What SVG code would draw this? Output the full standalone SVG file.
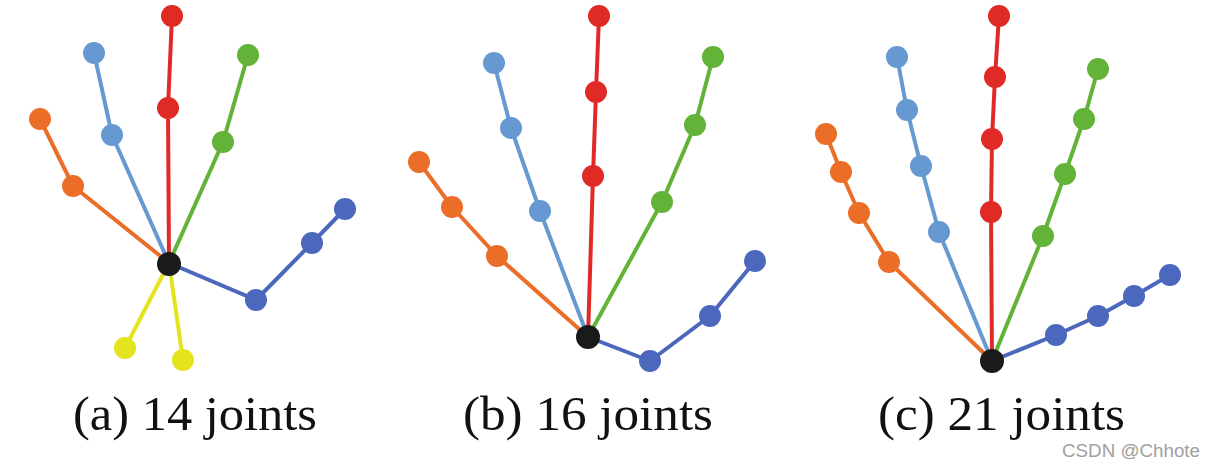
<svg xmlns="http://www.w3.org/2000/svg" width="1208" height="469" viewBox="0 0 1208 469">
<style>
.e{fill:none;stroke-width:4;stroke-linejoin:round;stroke-linecap:round}
.r{stroke:#E02A26}.rf{fill:#E02A26}
.lb{stroke:#6699D2}.lbf{fill:#6699D2}
.o{stroke:#EA6E28}.of{fill:#EA6E28}
.g{stroke:#62B337}.gf{fill:#62B337}
.b{stroke:#4B68BD}.bf{fill:#4B68BD}
.y{stroke:#E4E41E}.yf{fill:#E4E41E}
.k{fill:#1A1A1A}
.cap{font-family:"Liberation Serif",serif;font-size:48px;fill:#111}
.wm{font-family:"Liberation Sans",sans-serif;font-size:18px;fill:#a0a0a0}
</style>
<g id="connectors">
<polyline class="e r" points="169,263 168,108 172,16"/>
<polyline class="e lb" points="169,263 112,135 94,53"/>
<polyline class="e o" points="169,263 73,186 40,119"/>
<polyline class="e g" points="169,263 223,142 248,55"/>
<polyline class="e b" points="169,263 256,300 312,243 345,209"/>
<polyline class="e y" points="169,263 125,348"/>
<polyline class="e y" points="169,263 183,360"/>
<polyline class="e r" points="588,337 593,176 596,92 599,16"/>
<polyline class="e lb" points="588,337 540,211 511,128 494,63"/>
<polyline class="e o" points="588,337 497,256 452,207 419,162"/>
<polyline class="e g" points="588,337 662,202 695,125 713,57"/>
<polyline class="e b" points="588,337 650,361 710,316 755,261"/>
<polyline class="e r" points="992,361 991,212 992,139 995,77 999,16"/>
<polyline class="e lb" points="992,361 939,232 921,166 907,110 897,57"/>
<polyline class="e o" points="992,361 889,262 859,213 841,172 826,134"/>
<polyline class="e g" points="992,361 1043,236 1065,174 1084,119 1098,69"/>
<polyline class="e b" points="992,361 1056,335 1098,316 1134,296 1170,275"/>
</g>
<g id="panel-a">
<circle class="rf" cx="172" cy="16" r="11"/><circle class="rf" cx="168" cy="108" r="11"/>
<circle class="lbf" cx="94" cy="53" r="11"/><circle class="lbf" cx="112" cy="135" r="11"/>
<circle class="of" cx="40" cy="119" r="11"/><circle class="of" cx="73" cy="186" r="11"/>
<circle class="gf" cx="248" cy="55" r="11"/><circle class="gf" cx="223" cy="142" r="11"/>
<circle class="bf" cx="256" cy="300" r="11"/><circle class="bf" cx="312" cy="243" r="11"/><circle class="bf" cx="345" cy="209" r="11"/>
<circle class="yf" cx="125" cy="348" r="11"/><circle class="yf" cx="183" cy="360" r="11"/>
<circle class="k" cx="169" cy="264" r="12"/>
<text class="cap" x="73" y="430" textLength="244" lengthAdjust="spacingAndGlyphs">(a) 14 joints</text>
</g>
<g id="panel-b">
<circle class="rf" cx="599" cy="16" r="11"/><circle class="rf" cx="596" cy="92" r="11"/><circle class="rf" cx="593" cy="176" r="11"/>
<circle class="lbf" cx="494" cy="63" r="11"/><circle class="lbf" cx="511" cy="128" r="11"/><circle class="lbf" cx="540" cy="211" r="11"/>
<circle class="of" cx="419" cy="162" r="11"/><circle class="of" cx="452" cy="207" r="11"/><circle class="of" cx="497" cy="256" r="11"/>
<circle class="gf" cx="713" cy="57" r="11"/><circle class="gf" cx="695" cy="125" r="11"/><circle class="gf" cx="662" cy="202" r="11"/>
<circle class="bf" cx="650" cy="361" r="11"/><circle class="bf" cx="710" cy="316" r="11"/><circle class="bf" cx="755" cy="261" r="11"/>
<circle class="k" cx="588" cy="337" r="12"/>
<text class="cap" x="463" y="430" textLength="250" lengthAdjust="spacingAndGlyphs">(b) 16 joints</text>
</g>
<g id="panel-c">
<circle class="rf" cx="999" cy="16" r="11"/><circle class="rf" cx="995" cy="77" r="11"/><circle class="rf" cx="992" cy="139" r="11"/><circle class="rf" cx="991" cy="212" r="11"/>
<circle class="lbf" cx="897" cy="57" r="11"/><circle class="lbf" cx="907" cy="110" r="11"/><circle class="lbf" cx="921" cy="166" r="11"/><circle class="lbf" cx="939" cy="232" r="11"/>
<circle class="of" cx="826" cy="134" r="11"/><circle class="of" cx="841" cy="172" r="11"/><circle class="of" cx="859" cy="213" r="11"/><circle class="of" cx="889" cy="262" r="11"/>
<circle class="gf" cx="1098" cy="69" r="11"/><circle class="gf" cx="1084" cy="119" r="11"/><circle class="gf" cx="1065" cy="174" r="11"/><circle class="gf" cx="1043" cy="236" r="11"/>
<circle class="bf" cx="1056" cy="335" r="11"/><circle class="bf" cx="1098" cy="316" r="11"/><circle class="bf" cx="1134" cy="296" r="11"/><circle class="bf" cx="1170" cy="275" r="11"/>
<circle class="k" cx="992" cy="361" r="12"/>
<text class="cap" x="878" y="430" textLength="247" lengthAdjust="spacingAndGlyphs">(c) 21 joints</text>
</g>
<text class="wm" x="1062" y="457" textLength="138" lengthAdjust="spacingAndGlyphs">CSDN @Chhote</text>
</svg>
